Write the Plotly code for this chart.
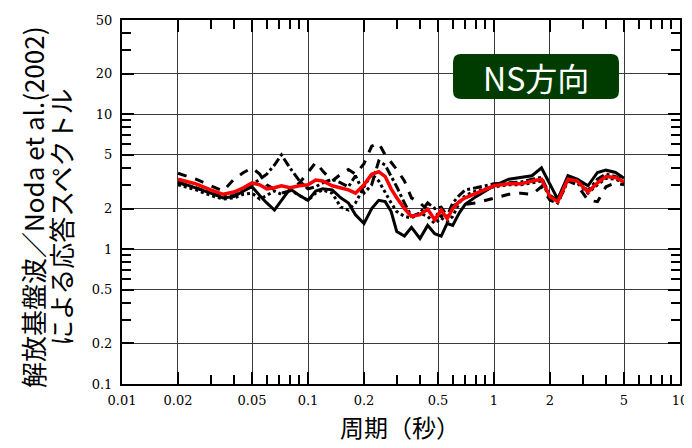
import plotly.graph_objects as go

# Periods (s)
period = [0.02, 0.025, 0.03, 0.035, 0.04, 0.045, 0.05, 0.055, 0.06, 0.066, 0.072, 0.08, 0.09,
          0.1, 0.11, 0.12, 0.135, 0.15, 0.165, 0.18, 0.2, 0.22, 0.24, 0.26, 0.28, 0.3, 0.33,
          0.36, 0.4, 0.44, 0.48, 0.52, 0.56, 0.6, 0.65, 0.7, 0.8, 0.9, 1.0, 1.2, 1.4, 1.6,
          1.8, 2.0, 2.2, 2.5, 2.8, 3.2, 3.6, 4.0, 4.5, 5.0]

mean_ratio = [3.3, 3.05, 2.75, 2.55, 2.65, 2.85, 3.1, 3.0, 2.8, 2.85, 2.95, 2.85, 2.95,
              3.0, 3.25, 3.2, 2.95, 2.85, 2.75, 2.6, 3.0, 3.6, 3.75, 3.45, 2.8, 2.4, 2.0,
              1.75, 1.8, 1.98, 1.65, 1.95, 1.68, 2.0, 2.25, 2.4, 2.6, 2.75, 2.95, 3.05, 3.05, 3.2,
              3.3, 2.45, 2.25, 3.3, 3.2, 2.65, 3.1, 3.45, 3.4, 3.15]

solid_ratio = [3.15, 2.85, 2.6, 2.4, 2.45, 2.7, 2.9, 2.5, 2.2, 1.95, 2.3, 2.8, 2.5,
               2.3, 2.7, 2.8, 2.75, 2.4, 2.2, 1.8, 1.55, 2.0, 2.3, 2.25, 1.9, 1.35, 1.25,
               1.45, 1.2, 1.5, 1.3, 1.25, 1.55, 1.5, 1.85, 2.15, 2.45, 2.7, 2.95, 3.3, 3.4, 3.5,
               4.0, 3.0, 2.35, 3.5, 3.3, 2.95, 3.7, 3.85, 3.7, 3.35]

dash_ratio = [3.65, 3.3, 2.95, 2.7, 3.3, 3.7, 4.0, 3.6, 3.0, 2.8, 2.6, 2.7, 3.1,
              3.7, 4.4, 3.8, 3.2, 3.6, 3.9, 3.6, 4.3, 5.8, 6.1, 5.0, 4.4, 3.9, 3.2,
              2.4, 2.2, 1.95, 1.85, 1.75, 1.9, 2.1, 2.2, 2.15, 2.2, 2.3, 2.4, 2.55, 2.6, 2.55,
              2.9, 2.3, 2.2, 3.2, 3.0, 2.3, 2.25, 2.9, 3.1, 3.0]

dashdot_ratio = [3.1, 2.85, 2.6, 2.45, 2.5, 2.7, 3.0, 3.3, 3.6, 4.2, 5.0, 4.0, 3.2,
                 2.8, 2.9, 3.1, 3.3, 3.1, 2.9, 3.5, 2.6, 3.0, 4.5, 4.2, 3.5, 2.9, 2.2,
                 1.75, 1.85, 2.2, 2.0, 2.05, 1.75, 2.2, 2.5, 2.75, 2.85, 2.95, 3.05, 3.1, 3.15, 3.3,
                 3.4, 2.5, 2.3, 3.4, 3.25, 2.7, 3.3, 3.6, 3.45, 3.2]

dot_ratio = [3.0, 2.75, 2.5, 2.35, 2.4, 2.55, 2.6, 2.35, 2.5, 2.7, 2.55, 2.75, 2.5,
             2.3, 2.6, 2.75, 2.6, 2.05, 1.95, 2.2, 2.9, 3.6, 3.2, 2.6, 2.2, 1.9, 1.75,
             1.7, 1.85, 1.75, 1.55, 1.7, 1.6, 1.75, 2.2, 2.5, 2.7, 2.8, 2.9, 3.0, 3.0, 3.1,
             3.2, 2.4, 2.2, 3.2, 3.1, 2.6, 3.0, 3.35, 3.3, 3.1]

x_tickvals = [0.01, 0.02, 0.05, 0.1, 0.2, 0.5, 1, 2, 5, 10]
x_ticktext = ["0.01", "0.02", "0.05", "0.1", "0.2", "0.5", "1", "2", "5", "10"]
y_tickvals = [0.1, 0.2, 0.5, 1, 2, 5, 10, 20, 50]
y_ticktext = ["0.1", "0.2", "0.5", "1", "2", "5", "10", "20", "50"]
minor_mult = [3, 4, 6, 7, 8, 9]
x_minor = [m * d for d in [0.01, 0.1, 1] for m in minor_mult]
y_minor = [m * d for d in [0.1, 1, 10] for m in minor_mult if m * d < 50] + [30, 40]

x_title = "周期（秒）"
y_title_1 = "解放基盤波／Noda et al.(2002)"
y_title_2 = "による応答スペクトル"
label_text = "NS方向"

fig = go.Figure()
for vals, dash in [(solid_ratio, "solid"), (dash_ratio, "dash"),
                   (dashdot_ratio, "dashdot"), (dot_ratio, "dot")]:
    fig.add_trace(go.Scatter(x=period, y=vals, mode="lines",
                             line=dict(color="black", width=3, dash=dash),
                             showlegend=False))
fig.add_trace(go.Scatter(x=period, y=mean_ratio, mode="lines",
                         line=dict(color="#ff0000", width=3.5), showlegend=False))

# page body has an 8px margin: work in screen pixels and shift
OFF = 8
W, H = 692 - OFF, 448 - OFF
L, T = 122 - OFF, 20 - OFF
R = W - (680 - OFF)
B = H - (384 - OFF)
pw, ph = W - L - R, H - T - B

def px2paper(x, y):
    # x, y in screen pixels
    return (x - OFF - L) / pw, (H - B - (y - OFF)) / ph

x0, x1, y0, y1, r = 453, 619, 54, 99, 8
def P(x, y):
    a, b = px2paper(x, y)
    return f"{a:.5f},{b:.5f}"
path = (f"M {P(x0 + r, y0)} L {P(x1 - r, y0)} Q {P(x1, y0)} {P(x1, y0 + r)} "
        f"L {P(x1, y1 - r)} Q {P(x1, y1)} {P(x1 - r, y1)} "
        f"L {P(x0 + r, y1)} Q {P(x0, y1)} {P(x0, y1 - r)} "
        f"L {P(x0, y0 + r)} Q {P(x0, y0)} {P(x0 + r, y0)} Z")
fig.add_shape(type="path", path=path, xref="paper", yref="paper",
              fillcolor="#003c00", line=dict(width=0), layer="above")

def add_text(text, sx, sy, size, color="black", angle=0):
    a, b = px2paper(sx, sy)
    fig.add_annotation(x=a, y=b, xref="paper", yref="paper", text=text, textangle=angle,
                       xanchor="center", yanchor="middle", showarrow=False,
                       font=dict(family="Noto Sans CJK JP", size=size, color=color))

add_text(label_text, (x0 + x1) / 2, (y0 + y1) / 2, 32, color="white")
add_text(y_title_1, 33, 208, 26, angle=-90)
add_text(y_title_2, 60, 218, 26, angle=-90)
add_text(x_title, 400, 426, 24)

axis_common = dict(type="log", showline=True, linecolor="black", linewidth=2, mirror="ticks",
                   ticks="inside", ticklen=12, tickwidth=2, tickcolor="black", automargin=False,
                   showgrid=True, gridcolor="#3a3a3a", gridwidth=1, zeroline=False,
                   tickfont=dict(family="DejaVu Serif", size=13, color="black"))
fig.update_xaxes(range=[-2, 1], tickmode="array", tickvals=x_tickvals, ticktext=x_ticktext,
                 ticklabelstandoff=3,
                 minor=dict(tickvals=x_minor, ticks="inside", ticklen=9, tickwidth=1.5,
                            tickcolor="black", showgrid=False),
                 **axis_common)
fig.update_yaxes(range=[-1, 1.69897], tickmode="array", tickvals=y_tickvals, ticktext=y_ticktext,
                 ticklabelstandoff=5,
                 minor=dict(tickvals=y_minor, ticks="inside", ticklen=9, tickwidth=1.5,
                            tickcolor="black", showgrid=False),
                 **axis_common)
fig.update_layout(width=W, height=H, margin=dict(l=L, r=R, t=T, b=B, autoexpand=False),
                  paper_bgcolor="white", plot_bgcolor="white")
fig.write_html("out.html")
